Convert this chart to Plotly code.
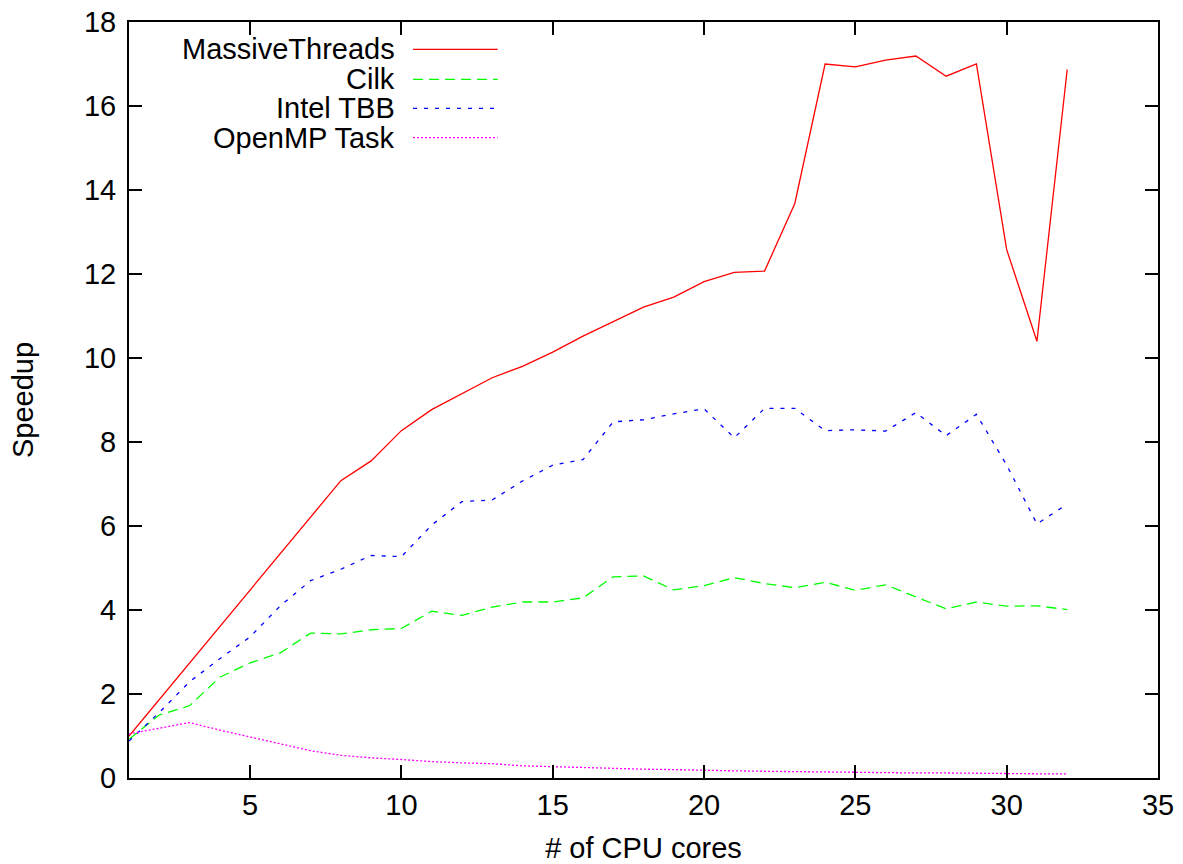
import plotly.graph_objects as go

cores = list(range(1, 33))
massive_threads = [1.0, 1.87, 2.73, 3.6, 4.47, 5.34, 6.2, 7.08, 7.55, 8.27, 8.77, 9.15, 9.53, 9.8, 10.14, 10.52,
                   10.86, 11.21, 11.45, 11.82, 12.04, 12.07, 13.68, 17.0, 16.93, 17.09, 17.19, 16.71, 17.0, 12.58,
                   10.4, 16.87]
cilk = [0.92, 1.5, 1.72, 2.4, 2.74, 2.98, 3.45, 3.43, 3.53, 3.56, 3.97, 3.87, 4.07, 4.19, 4.19, 4.29,
        4.79, 4.81, 4.48, 4.58, 4.77, 4.63, 4.53, 4.66, 4.47, 4.6, 4.31, 4.03, 4.19, 4.09, 4.1, 4.01]
intel_tbb = [0.88, 1.56, 2.29, 2.84, 3.36, 4.1, 4.7, 4.97, 5.3, 5.27, 6.02, 6.58, 6.62, 7.07, 7.45, 7.58,
             8.48, 8.53, 8.67, 8.79, 8.1, 8.8, 8.8, 8.27, 8.29, 8.26, 8.7, 8.15, 8.66, 7.45, 6.05, 6.52]
openmp_task = [1.05, 1.19, 1.32, 1.14, 0.98, 0.81, 0.65, 0.54, 0.48, 0.44, 0.39, 0.36, 0.34, 0.29, 0.27, 0.25,
               0.22, 0.21, 0.2, 0.18, 0.17, 0.16, 0.15, 0.14, 0.14, 0.13, 0.12, 0.12, 0.11, 0.11, 0.1, 0.1]

series_names = ["MassiveThreads", "Cilk", "Intel TBB", "OpenMP Task"]
series_values = [massive_threads, cilk, intel_tbb, openmp_task]
colors = ["#ff0000", "#00ff00", "#0000ff", "#ff00ff"]
dashes = ["solid", "10px,6px", "4px,7px", "2px,2px"]

FONT = "Liberation Sans, Arial, Helvetica, sans-serif"
FS = 29
KEY_FS = 29

fig = go.Figure()
for name, vals, c, d in zip(series_names, series_values, colors, dashes):
    fig.add_trace(go.Scatter(x=cores, y=vals, mode="lines", name=name,
                             line=dict(color=c, width=1.3, dash=d), showlegend=False))

# gnuplot-style key: right-aligned text, sample line to the right
key_y = [0.9639, 0.9242, 0.8858, 0.847]
for name, c, d, ky in zip(series_names, colors, dashes, key_y):
    fig.add_annotation(xref="paper", yref="paper", x=0.2595, y=ky, text=name, showarrow=False,
                       xanchor="right", yanchor="middle", borderpad=0,
                       font=dict(family=FONT, size=KEY_FS, color="black"))
    fig.add_shape(type="line", xref="paper", yref="paper", x0=0.276, x1=0.3583, y0=ky, y1=ky,
                  line=dict(color=c, width=1.3, dash=d))

axis_common = dict(showline=True, linecolor="black", linewidth=2, mirror="ticks", ticks="inside",
                   ticklen=13, tickwidth=2, tickcolor="black", showgrid=False, zeroline=False,
                   ticklabeloverflow="allow", automargin=False,
                   tickfont=dict(family=FONT, size=FS, color="black"))

fig.update_xaxes(range=[1, 35], tick0=0, dtick=5,
                 title=dict(text="# of CPU cores", font=dict(family=FONT, size=FS, color="black"), standoff=18),
                 **axis_common)
fig.update_yaxes(range=[0, 18], tick0=0, dtick=2, ticklabelstandoff=5,
                 title=dict(text="Speedup", font=dict(family=FONT, size=FS, color="black"), standoff=42),
                 **axis_common)

fig.update_layout(width=1183, height=864, margin=dict(l=129, r=25, t=22, b=86),
                  plot_bgcolor="white", paper_bgcolor="white",
                  font=dict(family=FONT, size=FS, color="black"))

fig.write_html("out.html", config={"displayModeBar": False},
               post_script="document.body.style.margin='0';")
